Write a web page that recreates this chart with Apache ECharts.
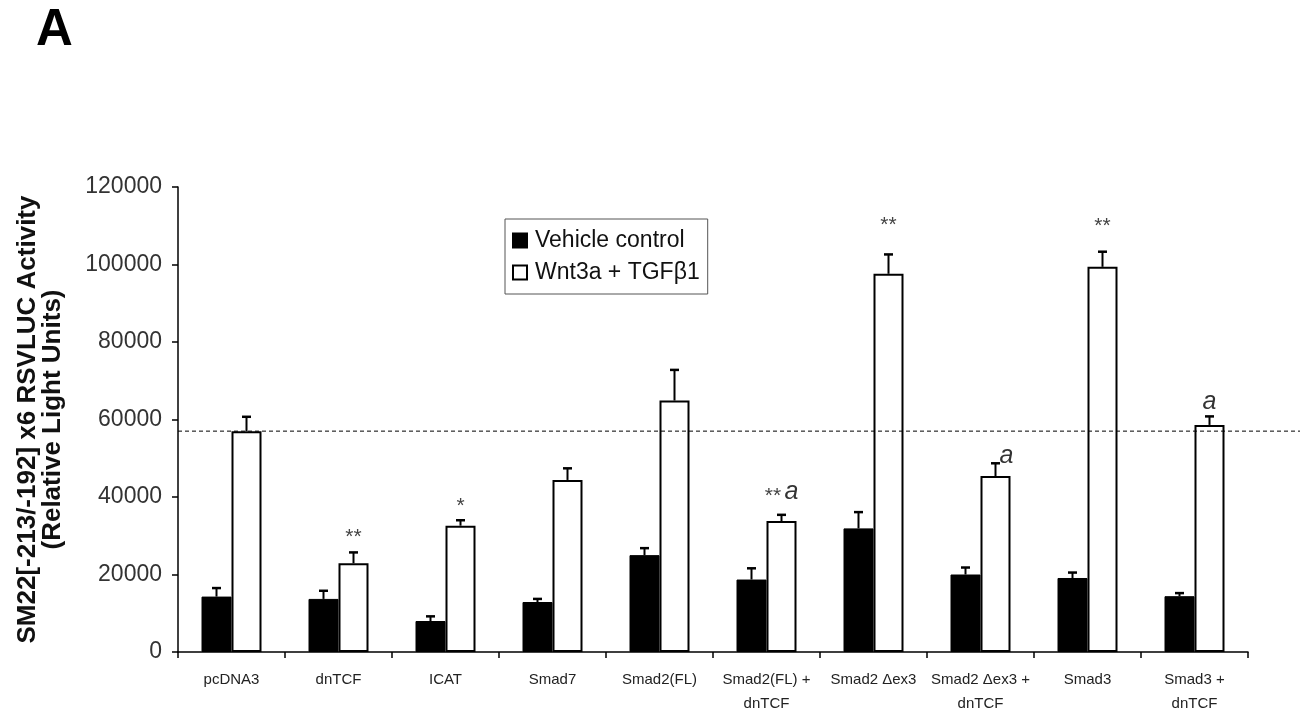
<!DOCTYPE html>
<html>
<head>
<meta charset="utf-8">
<script src="https://cdn.jsdelivr.net/npm/echarts@6/dist/echarts.min.js"></script>
<style>html,body{margin:0;padding:0;background:#fff;}#c{width:1310px;height:710px;}</style>
</head>
<body>
<div id="c"></div>
<script>
const categories = ['pcDNA3','dnTCF','ICAT','Smad7','Smad2(FL)','Smad2(FL) +\ndnTCF','Smad2 Δex3','Smad2 Δex3 +\ndnTCF','Smad3','Smad3 +\ndnTCF'];
const vehicle    = [14300, 13700, 8000, 12900, 25000, 18700, 31900, 20000, 19100, 14400];
const vehicleErr = [2200, 2100, 1200, 800, 1800, 2900, 4200, 1800, 1400, 800];
const wnt        = [57000, 22900, 32600, 44400, 64900, 33800, 97600, 45400, 99400, 58600];
const wntErr     = [3700, 2800, 1400, 3000, 7900, 1600, 5000, 3300, 3900, 2200];
const refValue   = 57000;
const yTicks     = {min: 0, max: 120000, interval: 20000};
const annotCat   = [1, 2, 5, 6, 7, 8, 9];
const annotText  = ['**', '*', '** a', '**', 'a', '**', 'a'];
const annotY     = [30600, 38600, 41200, 111100, 50500, 110800, 64600];
const annotSide  = ['c', 'c', 'c', 'c', 'r', 'c', 'c'];
const seriesNames = ['Vehicle control', 'Wnt3a + TGFβ1'];

const BW = 30;
function errSeries(vals, errs, off) {
  return {
    type: 'custom', z: 5, silent: true,
    data: vals.map((v, i) => [i, v, errs[i]]),
    renderItem: function (params, api) {
      const base = api.coord([api.value(0), api.value(1)]);
      const top = api.coord([api.value(0), api.value(1) + api.value(2)]);
      const x = base[0] + off;
      return {type: 'group', children: [
        {type: 'line', shape: {x1: x, y1: base[1], x2: x, y2: top[1]}, style: {stroke: '#000', lineWidth: 2}},
        {type: 'line', shape: {x1: x - 4.5, y1: top[1], x2: x + 4.5, y2: top[1]}, style: {stroke: '#000', lineWidth: 2.5}}
      ]};
    }
  };
}

function renderAnnot(t) {
  return t.replace(/\*+/g, m => '{s|' + m + '}').replace(/\ba\b/g, '{a|a}');
}

const option = {
  animation: false,
  backgroundColor: '#fff',
  title: {text: 'A', left: 31, top: 0, textStyle: {fontFamily: 'Liberation Sans', fontWeight: 'bold', fontSize: 51, color: '#000'}},
  legend: {
    data: seriesNames, orient: 'vertical', left: 505, top: 219, icon: 'rect',
    borderColor: '#555', borderWidth: 1, padding: [10, 8, 10, 7], itemGap: 9,
    itemWidth: 14, itemHeight: 14,
    textStyle: {fontFamily: 'Liberation Sans', fontSize: 23, color: '#111', padding: [0, 0, 0, 3]}
  },
  grid: {left: 178, right: 62, top: 187, bottom: 58, containLabel: false, outerBoundsMode: 'none'},
  xAxis: {
    type: 'category', data: categories, boundaryGap: true,
    axisLine: {lineStyle: {color: '#000', width: 1.5}},
    axisTick: {show: true, length: 6, lineStyle: {color: '#000', width: 1.5}},
    axisLabel: {fontFamily: 'Liberation Sans', fontSize: 15, color: '#222', margin: 16, lineHeight: 24, interval: 0}
  },
  yAxis: {
    type: 'value', min: yTicks.min, max: yTicks.max, interval: yTicks.interval,
    name: 'SM22[-213/-192] x6 RSVLUC Activity\n(Relative Light Units)',
    nameLocation: 'middle', nameRotate: 90, nameGap: 113,
    nameTextStyle: {fontFamily: 'Liberation Sans', fontWeight: 'bold', fontSize: 26, color: '#111', lineHeight: 25},
    axisLine: {show: true, lineStyle: {color: '#000', width: 1.5}},
    axisTick: {show: true, length: 6, lineStyle: {color: '#000', width: 1.5}},
    splitLine: {show: false},
    axisLabel: {fontFamily: 'Liberation Sans', fontSize: 23, color: '#333', margin: 16, formatter: v => String(v)}
  },
  series: [
    {name: seriesNames[0], type: 'bar', data: vehicle, barWidth: BW, barGap: '0%',
     itemStyle: {color: '#000', borderColor: '#000', borderWidth: 1}},
    {name: seriesNames[1], type: 'bar', data: wnt, barWidth: BW,
     itemStyle: {color: '#fff', borderColor: '#000', borderWidth: 2}},
    errSeries(vehicle, vehicleErr, -BW / 2),
    errSeries(wnt, wntErr, BW / 2),
    {
      type: 'custom', z: 4, silent: true, clip: false,
      data: [[0, refValue]],
      renderItem: function (params, api) {
        const y = api.coord([0, api.value(1)])[1];
        const cs = params.coordSys;
        return {type: 'line', shape: {x1: cs.x, y1: y, x2: cs.x + cs.width + 52, y2: y},
                style: {stroke: '#000', lineWidth: 1, lineDash: [4, 3]}};
      }
    },
    {
      type: 'custom', z: 6, silent: true, clip: false,
      data: annotCat.map((c, i) => [c, annotY[i], i]),
      renderItem: function (params, api) {
        const i = api.value(2);
        const p = api.coord([api.value(0), api.value(1)]);
        const right = annotSide[i] === 'r';
        return {type: 'text', x: p[0] + BW / 2 + (right ? 4 : 0), y: p[1],
          style: {text: renderAnnot(annotText[i]), textAlign: right ? 'left' : 'center', textVerticalAlign: 'middle',
            rich: {
              s: {fontFamily: 'Liberation Sans', fontSize: 21, fill: '#444', padding: [7, 0, 0, 0]},
              a: {fontFamily: 'Liberation Sans', fontStyle: 'italic', fontSize: 25, fill: '#333'}
            }}};
      }
    }
  ]
};
const chart = echarts.init(document.getElementById('c'), null, {renderer: 'canvas'});
chart.setOption(option);
</script>
</body>
</html>
